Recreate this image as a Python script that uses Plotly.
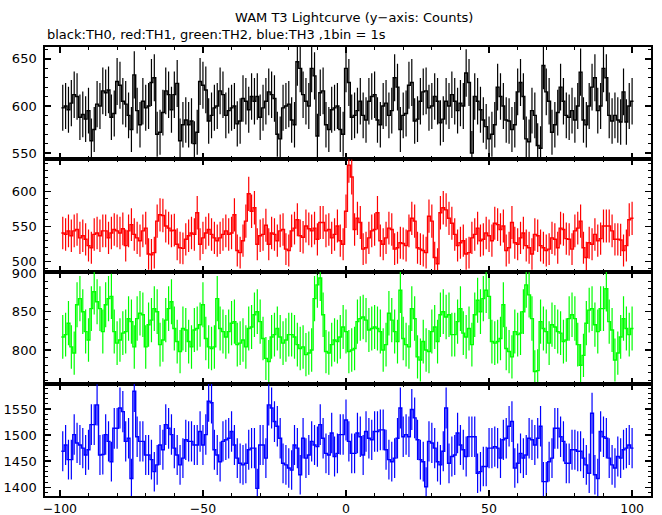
import numpy as np
import plotly.graph_objects as go

# time bins (1 bin = 1 s), bin centres
time_s = list(range(-99, 101))

# TH0 counts (black)
th0 = [598, 600, 596, 603, 612, 610, 588, 591, 586, 595,
       563, 575, 602, 600, 616, 614, 617, 588, 592, 626,
       622, 605, 602, 590, 575, 633, 595, 580, 605, 598,
       600, 625, 630, 570, 572, 593, 616, 612, 596, 612,
       624, 563, 580, 585, 580, 584, 560, 572, 626, 622,
       617, 584, 590, 598, 600, 616, 612, 590, 595, 598,
       600, 581, 584, 608, 605, 596, 610,
       605, 610, 588, 598, 605, 615, 612, 608, 570, 565,
       598, 600, 602, 585, 580, 647, 640, 612, 605, 600,
       640, 632, 568, 614, 616, 580, 575, 596, 598, 600,
       575, 570,
       640, 625, 588, 590, 595, 605, 590, 585, 605, 610,
       612, 585, 580, 600, 603, 590, 595, 630, 620, 575,
       590, 592, 622, 625, 584, 586, 605, 615, 616, 598,
       600, 610, 605, 582, 586, 605, 600,
       612, 605, 595, 603, 600, 635, 625, 550, 610, 605,
       596, 585, 578, 565, 570, 580, 620, 610, 600, 585,
       584, 575, 580, 615, 625, 610, 565, 562, 595, 590,
       558, 555, 643, 615, 605, 572, 580, 593, 620, 605,
       590, 588, 595, 585, 600, 636, 585, 580, 600, 620,
       630, 595, 600, 640, 630, 590, 584, 590, 585, 583,
       615, 583, 600, 605]

# TH1 counts (red)
th1 = [541, 539, 544, 537, 544, 546, 534, 537, 532, 523,
       520, 539, 541, 537, 544, 544, 534, 541, 546, 544,
       541, 547, 523, 544, 553, 539, 534, 530, 544, 548,
       511, 510, 513, 558, 567, 566, 551, 548, 544, 545,
       525, 520, 519, 532, 537, 541, 539, 570, 525, 534,
       541, 546, 539, 534, 530, 534, 539, 544, 539, 541,
       567, 516, 513, 530, 558, 597, 572,
       577, 525, 537, 539, 552, 525, 541, 539, 530, 544,
       546, 518, 516, 544, 548, 560, 537, 535, 551, 547,
       544, 548, 532, 556, 556, 544, 546, 534, 539, 551,
       530, 525,
       572, 638, 621, 546, 562, 556, 518, 520, 534, 544,
       546, 570, 530, 525, 534, 548, 546, 518, 520, 527,
       526, 523, 544, 562, 558, 520, 518, 516, 513, 565,
       558, 506, 497, 570, 577, 574, 562,
       555, 539, 523, 527, 530, 511, 513, 534, 539, 548,
       530, 532, 541, 537, 530, 555, 553, 546, 551, 516,
       520, 556, 527, 525, 534, 541, 523, 520, 511, 539,
       537, 523, 520, 516, 518, 534, 532, 520, 548, 546,
       533, 532, 518, 544, 548, 558, 520, 506, 527, 525,
       539, 530, 533, 551, 551, 551, 544, 532, 532, 531,
       516, 523, 560, 562]

# TH2 counts (green)
th2 = [817, 820, 835, 804, 796, 859, 867, 850, 824, 813,
       854, 876, 863, 854, 824, 859, 867, 870, 824, 809,
       813, 822, 824, 841, 837, 804, 841, 848, 846, 804,
       833, 839, 854, 850, 807, 813, 839, 854, 863, 828,
       811, 798, 828, 826, 811, 804, 826, 828, 833, 859,
       815, 804, 802, 804, 867, 828, 824, 817, 824, 835,
       837, 807, 809, 813, 804, 828, 830,
       846, 850, 837, 815, 789, 785, 817, 820, 828, 817,
       809, 813, 820, 820, 817, 807, 802, 804, 794, 796,
       800, 867, 885, 894, 846, 798, 796, 807, 813, 811,
       817, 830,
       824, 798, 800, 802, 837, 841, 843, 839, 826, 828,
       830, 828, 824, 800, 807, 848, 839, 824, 811, 878,
       815, 807, 804, 854, 841, 791, 787, 811, 800, 798,
       824, 830, 811, 846, 850, 843, 846,
       820, 820, 837, 854, 822, 817, 828, 807, 846, 865,
       850, 867, 878, 870, 811, 809, 811, 815, 859, 802,
       798, 791, 824, 820, 822, 850, 885, 872, 841, 772,
       773, 837, 828, 824, 809, 833, 830, 824, 822, 811,
       813, 841, 846, 841, 807, 780, 793, 835, 852, 854,
       833, 824, 854, 854, 880, 837, 826, 787, 796, 817,
       841, 828, 820, 828]

# TH3 counts (blue)
th3 = [1469, 1481, 1453, 1453, 1501, 1485, 1481, 1475, 1462, 1472,
       1520, 1520, 1558, 1462, 1463, 1501, 1488, 1449, 1513, 1513,
       1552, 1545, 1488, 1494, 1417, 1584, 1497, 1488, 1488, 1462,
       1462, 1453, 1430, 1443, 1481, 1472, 1520, 1513, 1501, 1475,
       1462, 1443, 1456, 1491, 1488, 1488, 1481, 1481, 1507, 1481,
       1501, 1565, 1562, 1472, 1462, 1449, 1488, 1491, 1494, 1507,
       1481, 1456, 1446, 1443, 1446, 1472, 1475, 1475, 1398, 1481,
       1481, 1456, 1558, 1552, 1526, 1517, 1494, 1446, 1443, 1437,
       1433, 1481, 1475, 1424, 1494, 1456, 1462, 1488, 1481, 1478,
       1520, 1494, 1465, 1462,
       1504, 1459, 1465, 1501, 1501,
       1529, 1488, 1465, 1465, 1504, 1497, 1462, 1507, 1494, 1491,
       1507, 1507, 1510, 1510, 1472, 1453, 1449, 1456, 1494, 1552,
       1497, 1501, 1497, 1549, 1533, 1491, 1453, 1449, 1401, 1488,
       1485, 1475, 1449, 1443, 1469, 1552, 1446, 1459, 1462, 1504,
       1481, 1472, 1459, 1497, 1497, 1497, 1427, 1430, 1440, 1440,
       1475, 1475, 1478, 1475, 1456, 1491, 1494, 1517, 1526, 1437,
       1446, 1465, 1456, 1462, 1494, 1491, 1481, 1494, 1517, 1411,
       1411, 1449, 1456, 1513, 1513, 1497, 1488, 1446, 1446, 1472,
       1472, 1469, 1469, 1456, 1443, 1427, 1542, 1424, 1417, 1507,
       1497, 1494, 1456, 1443, 1437, 1459, 1456, 1472, 1475, 1481,
       1475]

series = [th0, th1, th2, th3]
colors = ["#000000", "#ff0000", "#00ff00", "#0000ff"]
y_ranges = [[543.3, 663.0], [485.7, 646.3], [755.6, 902.2], [1382.8, 1597.9]]
x_range = [-105.1, 106.5]

W, H = 662, 515
left_px, right_px = 45.3, 650.7
bounds_px = [46.7, 159.3, 271.7, 384.0, 496.3]
FONT = "DejaVu Sans"

fig = go.Figure()
xc = np.array(time_s, dtype=float)
edges = np.append(xc - 0.5, xc[-1] + 0.5)

for i, (vals, col) in enumerate(zip(series, colors)):
    v = np.array(vals, dtype=float)
    xa = "x" if i == 0 else f"x{i+1}"
    ya = "y" if i == 0 else f"y{i+1}"
    # histogram-style step line
    fig.add_trace(go.Scatter(
        x=edges, y=np.append(v, v[-1]), mode="lines",
        line=dict(shape="hv", color=col, width=1.4),
        xaxis=xa, yaxis=ya, showlegend=False, hoverinfo="skip"))
    # Poisson error bars at bin centres
    fig.add_trace(go.Scatter(
        x=xc, y=v, mode="markers",
        marker=dict(size=1, color="rgba(0,0,0,0)"),
        error_y=dict(type="data", array=np.sqrt(v), width=0,
                     thickness=1.2, color=col),
        xaxis=xa, yaxis=ya, showlegend=False, hoverinfo="skip"))

layout = dict(
    width=W, height=H,
    margin=dict(l=0, r=0, t=0, b=0),
    paper_bgcolor="white", plot_bgcolor="white",
    font=dict(family=FONT, size=13, color="black"),
    showlegend=False,
)

for i in range(4):
    xk = "xaxis" if i == 0 else f"xaxis{i+1}"
    yk = "yaxis" if i == 0 else f"yaxis{i+1}"
    ya = "y" if i == 0 else f"y{i+1}"
    xa = "x" if i == 0 else f"x{i+1}"
    top, bot = bounds_px[i], bounds_px[i + 1]
    layout[xk] = dict(
        domain=[left_px / W, right_px / W], range=x_range, anchor=ya,
        showline=True, linecolor="black", linewidth=2, mirror="ticks",
        ticks="inside", ticklen=6, tickwidth=1.5, tickcolor="black",
        tick0=0, dtick=50, showgrid=False, zeroline=False,
        showticklabels=(i == 3), automargin=False,
        tickfont=dict(family=FONT, size=13),
        minor=dict(ticks="inside", ticklen=3, tickwidth=1,
                   tickcolor="black", dtick=10, tick0=0, showgrid=False),
    )
    if i > 0:
        layout[xk]["matches"] = "x"
    layout[yk] = dict(
        domain=[1 - bot / H, 1 - top / H], range=y_ranges[i], anchor=xa,
        showline=True, linecolor="black", linewidth=2, mirror="ticks",
        ticks="inside", ticklen=6, tickwidth=1.5, tickcolor="black",
        tick0=0, dtick=50, showgrid=False, zeroline=False,
        automargin=False, ticklabelstandoff=4,
        tickfont=dict(family=FONT, size=13),
        minor=dict(ticks="inside", ticklen=3, tickwidth=1,
                   tickcolor="black", dtick=10, tick0=0, showgrid=False),
    )

layout["annotations"] = [
    dict(text="WAM T3 Lightcurve (y\u2212axis: Counts)", xref="paper", yref="paper",
         x=354 / W, y=1 - 17 / H, xanchor="center", yanchor="middle",
         showarrow=False, font=dict(family=FONT, size=13)),
    dict(text="black:TH0, red:TH1, green:TH2, blue:TH3 ,1bin = 1s", xref="paper", yref="paper",
         x=45 / W, y=1 - 35 / H, xanchor="left", yanchor="middle",
         showarrow=False, font=dict(family=FONT, size=13)),
]

fig.update_layout(**layout)
fig.update_xaxes(selector=dict(anchor="y4"), tickfont=dict(family=FONT, size=12.5))
fig.write_html(
    "out.html",
    config={"displayModeBar": False, "staticPlot": True},
    post_script="document.body.style.margin='0px';document.body.style.overflow='hidden';",
)
